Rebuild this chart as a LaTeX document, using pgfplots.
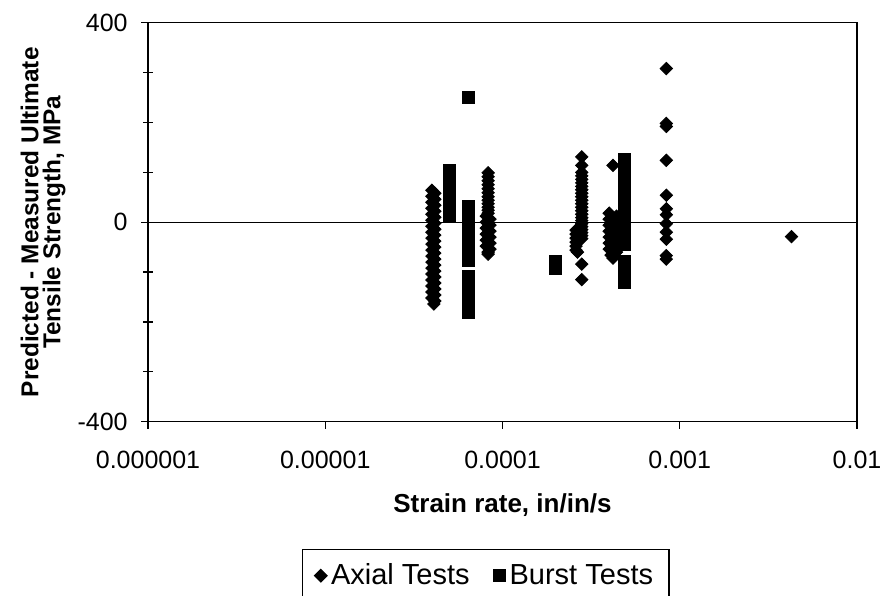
\documentclass[border=0pt]{standalone}
\usepackage{pgfplots}
\pgfplotsset{compat=1.18}
\usepackage{fontspec}
\setmainfont{Liberation Sans}
\begin{document}
\begin{tikzpicture}
\path[use as bounding box] (0,0) rectangle (442.5bp,298bp);
\begin{axis}[
  at={(74bp,87.15bp)}, anchor=south west,
  scale only axis, width=354.5bp, height=199.5bp,
  xmode=log, xmin=1e-6, xmax=1e-2, ymin=-400, ymax=400,
  xtick={1e-6,1e-5,1e-4,1e-3,1e-2},
  xticklabels={0.000001,0.00001,0.0001,0.001,0.01},
  xminorticks=false,
  ytick={-400,0,400}, yticklabels={-400,0,400},
  extra y ticks={-300,-200,-100,100,200,300},
  extra y tick labels={},
  extra y tick style={tick align=center, major tick length=5bp},
  tick align=outside, major tick length=3.5bp,
  xtick pos=bottom, ytick pos=left,
  axis line style={line width=0.7bp},
  every tick/.style={black, line width=0.6bp},
  xticklabel style={font=\fontsize{12.5bp}{14bp}\selectfont, inner sep=0pt, anchor=north},
  xticklabel shift=11bp,
  yticklabel style={font=\fontsize{12.5bp}{14bp}\selectfont, inner sep=0pt, anchor=east},
  yticklabel shift=6.5bp,
  xlabel={Strain rate, in/in/s},
  xlabel style={at={(axis description cs:0.5,-0.209)}, anchor=center, inner sep=0pt, font=\bfseries\fontsize{13bp}{14bp}\selectfont},
  ylabel={Predicted - Measured Ultimate\\Tensile Strength, MPa},
  ylabel style={at={(axis description cs:-0.148,0.5)}, anchor=center, align=center, inner sep=0pt, font=\bfseries\fontsize{12.2bp}{11bp}\selectfont},
  legend columns=2,
  legend image code/.code={\draw[mark repeat=2,mark phase=2,#1] plot coordinates {(0bp,0bp) (5.5bp,0bp) (11bp,0bp)};},
  legend style={at={(axis description cs:0.2172,-0.3193)}, anchor=north west, draw=black, line width=0.6bp,
    font=\fontsize{14.5bp}{16bp}\selectfont, inner xsep=6bp, inner ysep=5bp,
    nodes={inner xsep=2bp, inner ysep=2bp},
    /tikz/every even column/.append style={column sep=10bp}},
  legend cell align=left,
]
\addplot[black, line width=0.6bp, forget plot] coordinates {(1e-6,0) (1e-2,0)};
\addplot[only marks, mark=square*, mark size=2.2bp, mark options={rotate=45, fill=black, draw=black}, black] table {
x y
4.0e-5 64
4.15e-5 58
4.0e-5 52
4.15e-5 46
4.0e-5 40
4.15e-5 34
4.0e-5 28
4.15e-5 22
4.0e-5 16
4.15e-5 10
4.0e-5 4
4.15e-5 -2
4.0e-5 -8
4.15e-5 -14
4.0e-5 -20
4.15e-5 -26
4.0e-5 -32
4.15e-5 -38
4.0e-5 -44
4.15e-5 -50
4.0e-5 -56
4.15e-5 -62
4.0e-5 -68
4.15e-5 -74
4.0e-5 -80
4.15e-5 -86
4.0e-5 -92
4.15e-5 -98
4.0e-5 -104
4.15e-5 -110
4.0e-5 -116
4.15e-5 -122
4.0e-5 -128
4.15e-5 -134
4.0e-5 -140
4.15e-5 -146
4.0e-5 -152
4.15e-5 -158
4.1e-5 -164
8.3e-5 99
8.3e-5 91
8.3e-5 83
8.3e-5 75
8.3e-5 67
8.3e-5 59
8.3e-5 51
8.3e-5 44
8.3e-5 37
8.3e-5 30
8.3e-5 24
8.3e-5 18
8.1e-5 12
8.5e-5 6
8.1e-5 0
8.5e-5 -6
8.1e-5 -12
8.5e-5 -18
8.1e-5 -24
8.5e-5 -30
8.1e-5 -36
8.5e-5 -42
8.1e-5 -48
8.5e-5 -54
8.3e-5 -60
8.3e-5 -64
2.8e-4 131
2.8e-4 114
2.8e-4 100
2.8e-4 93
2.8e-4 86
2.8e-4 79
2.8e-4 72
2.8e-4 65
2.8e-4 58
2.8e-4 51
2.8e-4 44
2.8e-4 37
2.8e-4 30
2.8e-4 23
2.8e-4 16
2.8e-4 9
2.8e-4 3
2.8e-4 -3
2.8e-4 -9
2.8e-4 -15
2.8e-4 -21
2.8e-4 -27
2.8e-4 -33
2.6e-4 -16
2.6e-4 -24
2.6e-4 -32
2.6e-4 -40
2.6e-4 -48
2.6e-4 -56
2.65e-4 -60
2.8e-4 -84
2.8e-4 -115
4.2e-4 114
4.0e-4 18
4.4e-4 12
4.0e-4 6
4.4e-4 0
4.0e-4 -6
4.4e-4 -12
4.0e-4 -18
4.4e-4 -24
4.0e-4 -30
4.4e-4 -36
4.0e-4 -42
4.4e-4 -48
4.0e-4 -54
4.4e-4 -60
4.1e-4 -66
4.2e-4 -72
8.4e-4 308
8.4e-4 198
8.4e-4 192
8.4e-4 124
8.4e-4 54
8.4e-4 27
8.4e-4 15
8.4e-4 -3
8.4e-4 -20
8.4e-4 -34
8.4e-4 -67
8.4e-4 -74
4.27e-3 -29
};
\addlegendentry{Axial Tests}
\addplot[only marks, mark=square*, mark size=3bp, mark options={fill=black, draw=black}, black] table {
x y
5.0e-5 103
5.0e-5 82
5.0e-5 62
5.0e-5 42
5.0e-5 24
5.0e-5 12
6.4e-5 251
6.4e-5 32
6.4e-5 20
6.4e-5 -6
6.4e-5 -14
6.4e-5 -22
6.4e-5 -30
6.4e-5 -38
6.4e-5 -46
6.4e-5 -54
6.4e-5 -62
6.4e-5 -70
6.4e-5 -76
6.4e-5 -108
6.4e-5 -116
6.4e-5 -124
6.4e-5 -132
6.4e-5 -140
6.4e-5 -148
6.4e-5 -156
6.4e-5 -164
6.4e-5 -172
6.4e-5 -180
2.0e-4 -78
2.0e-4 -93
4.9e-4 125
4.9e-4 115
4.9e-4 105
4.9e-4 95
4.9e-4 85
4.9e-4 75
4.9e-4 65
4.9e-4 55
4.9e-4 45
4.9e-4 35
4.9e-4 25
4.9e-4 15
4.9e-4 5
4.9e-4 -5
4.9e-4 -15
4.9e-4 -25
4.9e-4 -35
4.9e-4 -45
4.9e-4 -78
4.9e-4 -94
4.9e-4 -120
};
\addlegendentry{Burst Tests}
\end{axis}
\end{tikzpicture}
\end{document}
